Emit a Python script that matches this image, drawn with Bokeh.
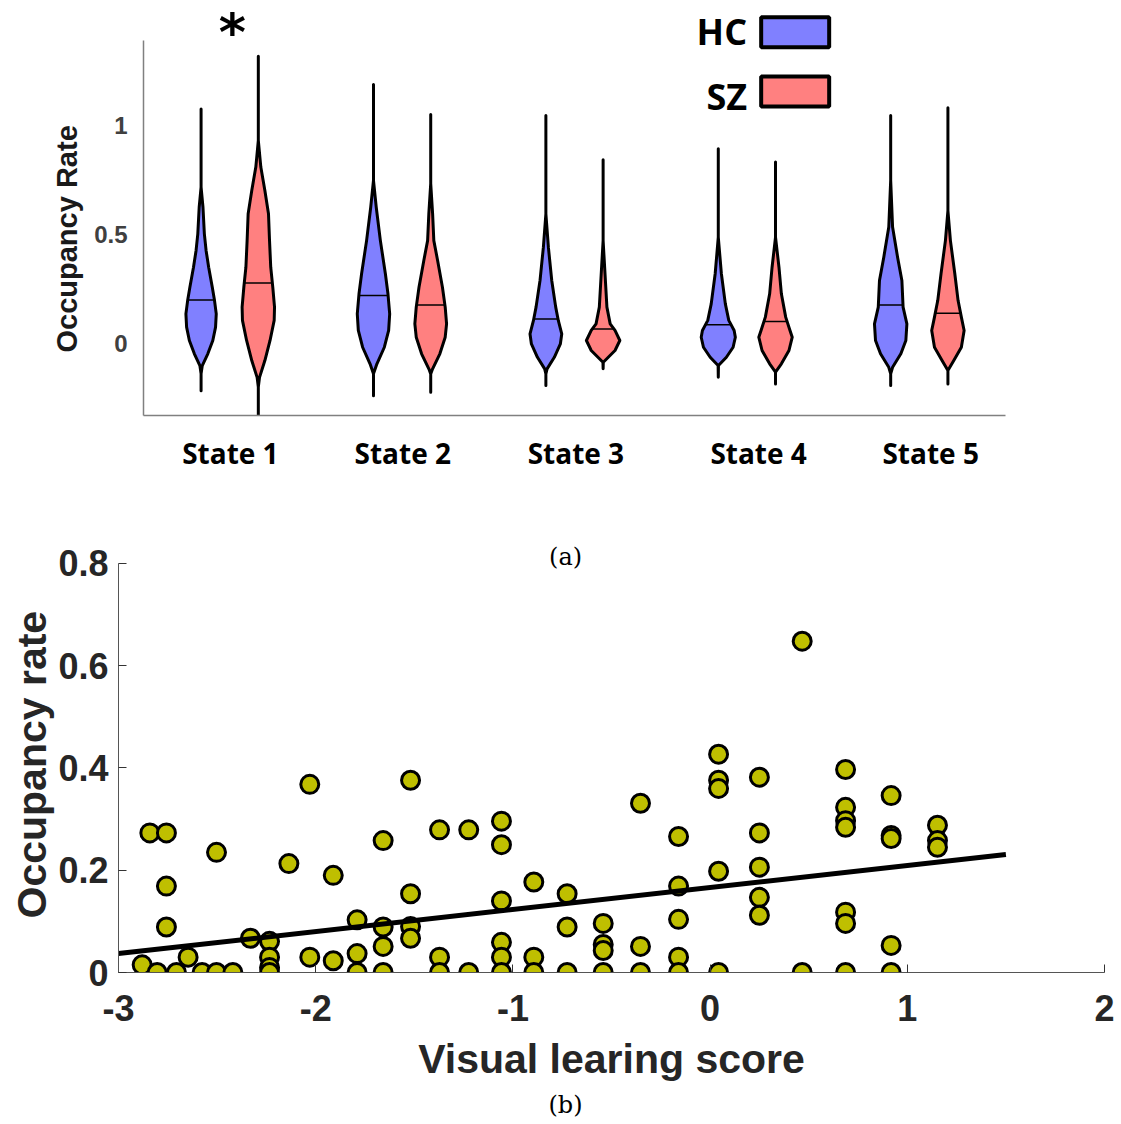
import numpy as np
from bokeh.plotting import figure
from bokeh.layouts import column
from bokeh.models import Label, FixedTicker, Range1d, Title
from bokeh.embed import file_html
from bokeh.resources import INLINE

# ---------------- data: panel (a) violin profiles ----------------
STATES = ["State 1", "State 2", "State 3", "State 4", "State 5"]
GROUPS = ["HC", "SZ"]

# occupancy level (y) and violin half-width (w)
HC_S1_Y = [1.076, 0.717, 0.625, 0.503, 0.427, 0.350, 0.258, 0.197, 0.136, 0.075, 0.014, -0.047, -0.101, -0.139, -0.216]
HC_S1_W = [0, 0, 0.011, 0.019, 0.029, 0.044, 0.065, 0.078, 0.088, 0.084, 0.068, 0.039, 0.007, 0, 0]
SZ_S1_Y = [1.317, 0.931, 0.809, 0.702, 0.595, 0.472, 0.350, 0.258, 0.167, 0.106, 0.014, -0.078, -0.155, -0.200, -0.330]
SZ_S1_W = [0, 0, 0.0145, 0.038, 0.059, 0.065, 0.072, 0.084, 0.094, 0.092, 0.068, 0.038, 0.007, 0, 0]

HC_S2_Y = [1.188, 0.748, 0.625, 0.472, 0.320, 0.228, 0.136, 0.060, -0.017, -0.093, -0.139, -0.239]
HC_S2_W = [0, 0, 0.016, 0.040, 0.069, 0.084, 0.094, 0.088, 0.063, 0.020, 0, 0]
SZ_S2_Y = [1.050, 0.733, 0.595, 0.472, 0.381, 0.258, 0.167, 0.090, 0.029, -0.047, -0.116, -0.139, -0.223]
SZ_S2_W = [0, 0, 0.011, 0.018, 0.040, 0.068, 0.084, 0.092, 0.084, 0.053, 0.011, 0, 0]

HC_S3_Y = [1.046, 0.595, 0.442, 0.289, 0.167, 0.106, 0.044, -0.002, -0.063, -0.116, -0.139, -0.193]
HC_S3_W = [0, 0, 0.0145, 0.034, 0.057, 0.072, 0.092, 0.084, 0.049, 0.007, 0, 0]
SZ_S3_Y = [0.843, 0.472, 0.320, 0.167, 0.090, 0.060, 0.014, -0.032, -0.063, -0.086, -0.116]
SZ_S3_W = [0, 0, 0.011, 0.022, 0.041, 0.069, 0.097, 0.069, 0.030, 0.001, 0]

HC_S4_Y = [0.893, 0.488, 0.320, 0.182, 0.106, 0.060, 0.029, -0.017, -0.063, -0.101, -0.155]
HC_S4_W = [0, 0, 0.018, 0.041, 0.061, 0.092, 0.099, 0.086, 0.047, 0.001, 0]
SZ_S4_Y = [0.832, 0.488, 0.350, 0.228, 0.121, 0.060, 0.029, -0.032, -0.093, -0.131, -0.185]
SZ_S4_W = [0, 0, 0.020, 0.034, 0.059, 0.084, 0.097, 0.078, 0.034, 0, 0]

HC_S5_Y = [1.046, 0.748, 0.534, 0.396, 0.289, 0.167, 0.090, 0.014, -0.047, -0.109, -0.139, -0.193]
HC_S5_W = [0, 0, 0.011, 0.040, 0.065, 0.072, 0.094, 0.088, 0.059, 0.011, 0, 0]
SZ_S5_Y = [1.081, 0.610, 0.472, 0.320, 0.197, 0.121, 0.060, -0.017, -0.078, -0.124, -0.185]
SZ_S5_W = [0, 0, 0.0145, 0.040, 0.059, 0.078, 0.094, 0.078, 0.034, 0, 0]

HC_MEDIAN = [0.200, 0.220, 0.113, 0.086, 0.177]
SZ_MEDIAN = [0.278, 0.177, 0.067, 0.101, 0.139]

# ---------------- data: panel (b) scatter ----------------
VIS_SCORE = [
    -2.880, -2.841, -2.804, -2.757, -2.757, -2.757, -2.706, -2.647, -2.576, -2.503,
    -2.503, -2.420, -2.331, -2.234, -2.234, -2.234, -2.234, -2.136, -2.030, -2.030,
    -1.911, -1.911, -1.790, -1.790, -1.790, -1.658, -1.658, -1.658, -1.658, -1.519,
    -1.519, -1.519, -1.519, -1.372, -1.372, -1.372, -1.224, -1.224, -1.058, -1.058,
    -1.058, -1.058, -1.058, -1.058, -0.894, -0.894, -0.894, -0.725, -0.725, -0.725,
    -0.542, -0.542, -0.542, -0.542, -0.353, -0.353, -0.353, -0.160, -0.160, -0.160,
    -0.160, -0.160, 0.043, 0.043, 0.043, 0.043, 0.043, 0.250, 0.250, 0.250,
    0.250, 0.250, 0.467, 0.467, 0.687, 0.687, 0.687, 0.687, 0.687, 0.687,
    0.687, 0.918, 0.918, 0.918, 0.918, 0.918, 1.153, 1.153, 1.153,
]
OCC_RATE = [
    0.015, 0.273, 0.000, 0.273, 0.169, 0.089, 0.000, 0.030, 0.000, 0.235,
    0.000, 0.000, 0.067, 0.061, 0.030, 0.010, 0.000, 0.213, 0.368, 0.030,
    0.190, 0.023, 0.103, 0.037, 0.000, 0.258, 0.089, 0.051, 0.000, 0.376,
    0.154, 0.090, 0.067, 0.279, 0.030, 0.000, 0.279, 0.000, 0.296, 0.250,
    0.140, 0.059, 0.030, 0.000, 0.177, 0.030, 0.000, 0.154, 0.089, 0.000,
    0.096, 0.055, 0.043, 0.000, 0.331, 0.051, 0.000, 0.266, 0.169, 0.104,
    0.030, 0.000, 0.427, 0.376, 0.360, 0.198, 0.000, 0.382, 0.273, 0.206,
    0.147, 0.112, 0.648, 0.000, 0.397, 0.323, 0.297, 0.284, 0.118, 0.096,
    0.000, 0.346, 0.268, 0.262, 0.053, 0.000, 0.288, 0.258, 0.245,
]
FIT_X = [-3.0, 1.5]
FIT_Y = [0.037, 0.231]

X_TICKS = [-3, -2, -1, 0, 1, 2]
Y_TICKS_B = [0, 0.2, 0.4, 0.6, 0.8]
Y_TICKS_A = [0, 0.5, 1]

HC_COLOR = "#8080FF"
SZ_COLOR = "#FF8080"
SANS = "Liberation Sans"

# ================= panel (a) =================
top = figure(width=1121, height=530, x_range=Range1d(0.5, 5.5), y_range=Range1d(-0.330, 1.573),
             output_backend="svg", toolbar_location=None, frame_align=False,
             min_border_left=143, min_border_right=116, min_border_top=0, min_border_bottom=115)
top.xgrid.visible = False
top.ygrid.visible = False
top.outline_line_color = None


def violin(p, cx, ys, ws, color, med):
    ys = np.asarray(ys, dtype=float)
    ws = np.asarray(ws, dtype=float)
    xs = np.concatenate([cx - ws, (cx + ws)[::-1]])
    yy = np.concatenate([ys, ys[::-1]])
    p.patch(xs, yy, fill_color=color, line_color="black", line_width=3, line_join="round")
    order = np.argsort(ys)
    wm = np.interp(med, ys[order], ws[order])
    p.line([cx - wm, cx + wm], [med, med], line_color="black", line_width=1.5)


HC_PROFILES = [(HC_S1_Y, HC_S1_W), (HC_S2_Y, HC_S2_W), (HC_S3_Y, HC_S3_W), (HC_S4_Y, HC_S4_W), (HC_S5_Y, HC_S5_W)]
SZ_PROFILES = [(SZ_S1_Y, SZ_S1_W), (SZ_S2_Y, SZ_S2_W), (SZ_S3_Y, SZ_S3_W), (SZ_S4_Y, SZ_S4_W), (SZ_S5_Y, SZ_S5_W)]
for i in range(len(STATES)):
    g = i + 1
    violin(top, g - 0.166, HC_PROFILES[i][0], HC_PROFILES[i][1], HC_COLOR, HC_MEDIAN[i])
    violin(top, g + 0.166, SZ_PROFILES[i][0], SZ_PROFILES[i][1], SZ_COLOR, SZ_MEDIAN[i])

ya = top.yaxis[0]
ya.ticker = FixedTicker(ticks=Y_TICKS_A)
ya.major_label_overrides = {0: "0", 0.5: "0.5", 1: "1"}
ya.bounds = (-0.33, 1.39)
ya.axis_line_color = "#808080"
ya.axis_line_width = 1.5
ya.major_tick_line_color = None
ya.minor_tick_line_color = None
ya.major_label_text_font = SANS
ya.major_label_text_font_style = "bold"
ya.major_label_text_font_size = "24px"
ya.major_label_text_color = "#404040"
ya.major_label_standoff = 10

# y-axis title of panel (a), placed along the axis as in the original
top.add_layout(Title(text="Occupancy Rate", align="left", offset=63, standoff=18,
                     text_font=SANS, text_font_style="bold", text_font_size="29px",
                     text_color="#1a1a1a"), "left")

# state names as the category axis (labels were hand-placed in the original)
label_dx = [0.004, 0.004, 0.008, 0.068, 0.066]
state_ticks = [i + 1 + label_dx[i] for i in range(len(STATES))]
xa = top.xaxis[0]
xa.ticker = FixedTicker(ticks=state_ticks)
xa.major_label_overrides = {t: s for t, s in zip(state_ticks, STATES)}
xa.major_tick_line_color = None
xa.minor_tick_line_color = None
xa.axis_line_color = "#808080"
xa.axis_line_width = 1.5
xa.major_label_text_font = "Open Sans"
xa.major_label_text_font_style = "bold"
xa.major_label_text_font_size = "28px"
xa.major_label_text_color = "black"
xa.major_label_standoff = 12

# significance mark
top.add_layout(Label(x=1.016, y=1.430, text="*", text_align="center", text_baseline="middle",
                     text_font="DejaVu Sans", text_font_style="bold", text_font_size="52px",
                     text_color="black"))

# legend
top.rect(x=[4.28], y=[1.427], width=68, height=30, width_units="screen", height_units="screen",
         fill_color=HC_COLOR, line_color="black", line_width=4)
top.rect(x=[4.28], y=[1.156], width=68, height=30, width_units="screen", height_units="screen",
         fill_color=SZ_COLOR, line_color="black", line_width=4)
top.add_layout(Label(x=4.001, y=1.431, text=GROUPS[0], text_align="right", text_baseline="middle",
                     text_font="Open Sans", text_font_style="bold", text_font_size="36px", text_color="black"))
top.add_layout(Label(x=4.001, y=1.133, text=GROUPS[1], text_align="right", text_baseline="middle",
                     text_font="Open Sans", text_font_style="bold", text_font_size="36px", text_color="black"))

# ================= panel (b) =================
bot = figure(width=1121, height=594, x_range=Range1d(-3, 2), y_range=Range1d(0, 0.8645),
             output_backend="svg", toolbar_location=None, frame_align=False,
             min_border_left=118, min_border_right=17, min_border_top=0, min_border_bottom=152)
bot.xgrid.visible = False
bot.ygrid.visible = False
bot.outline_line_color = None

bot.scatter(VIS_SCORE, OCC_RATE, marker="circle", size=18, fill_color="#BFBF00",
            line_color="black", line_width=3)
bot.line(FIT_X, FIT_Y, line_color="black", line_width=5)

for ax in (bot.xaxis[0], bot.yaxis[0]):
    ax.axis_line_color = "#555555"
    ax.axis_line_width = 1
    ax.major_tick_in = 8
    ax.major_tick_out = 0
    ax.major_tick_line_color = "#333333"
    ax.minor_tick_line_color = None
    ax.major_label_text_font = SANS
    ax.major_label_text_font_style = "bold"
    ax.major_label_text_font_size = "36px"
    ax.major_label_text_color = "#262626"
    ax.axis_label_text_font = SANS
    ax.axis_label_text_font_style = "bold"
    ax.axis_label_text_font_size = "41px"
    ax.axis_label_text_color = "#262626"

bx = bot.xaxis[0]
bx.ticker = FixedTicker(ticks=X_TICKS)
bx.major_label_overrides = {t: str(t) for t in X_TICKS}
bx.major_label_standoff = 22
bx.axis_label = "Visual learing score"
bx.axis_label_standoff = 12

by = bot.yaxis[0]
by.ticker = FixedTicker(ticks=Y_TICKS_B)
by.major_label_overrides = {0: "0", 0.2: "0.2", 0.4: "0.4", 0.6: "0.6", 0.8: "0.8"}
by.bounds = (0, 0.8)
by.major_label_standoff = 10

bot.add_layout(Title(text="Occupancy rate", align="left", offset=54, standoff=2,
                     text_font=SANS, text_font_style="bold", text_font_size="41px",
                     text_color="#262626"), "left")

bot.add_layout(Label(x=-0.733, y=0.812, text="(a)", text_align="center", text_baseline="middle",
                     text_font="DejaVu Serif", text_font_size="24px", text_color="black"))

bot.title.text = "(b)"
bot.title_location = "below"
bot.title.align = "left"
bot.title.offset = 430
bot.title.text_font = "DejaVu Serif"
bot.title.text_font_style = "normal"
bot.title.text_font_size = "24px"
bot.title.text_color = "black"
bot.title.standoff = 8

layout = column(top, bot, spacing=0)
open("out.html", "w").write(file_html(layout, INLINE))
